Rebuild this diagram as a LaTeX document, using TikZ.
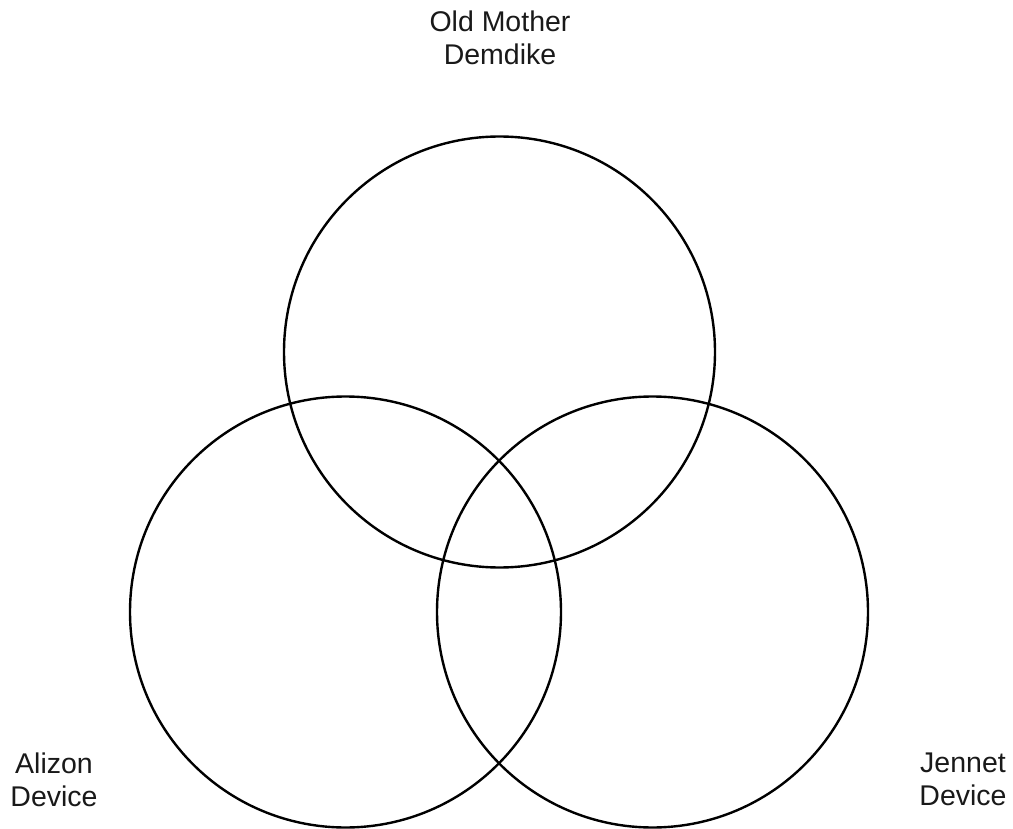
\documentclass[tikz,border=0pt]{standalone}
\usepackage{fontspec}
\setmainfont{Liberation Sans}
\usepackage{tikz}

\begin{document}
\begin{tikzpicture}[
  x=1pt, y=-1pt,
  set/.style={draw, circle, line width=2.4pt, minimum size=431pt, inner sep=0pt},
  lbl/.style={align=center, inner sep=0pt, font=\fontsize{28.5}{33}\selectfont, text=black!90},
]
\useasboundingbox (0,0) rectangle (1013,829);

% ---------- the three sets ----------
\node[set] (demdike) at (499.5,352) {};
\node[set] (alizon) at (345.5,612) {};
\node[set] (jennet) at (652.5,612) {};

% ---------- names ----------
\node[lbl] (demdikelbl) at (500,38) {Old Mother\\Demdike};
\node[lbl] (alizonlbl) at (54,779.5) {Alizon\\Device};
\node[lbl] (jennetlbl) at (963,779.5) {Jennet\\Device};

\end{tikzpicture}
\end{document}
